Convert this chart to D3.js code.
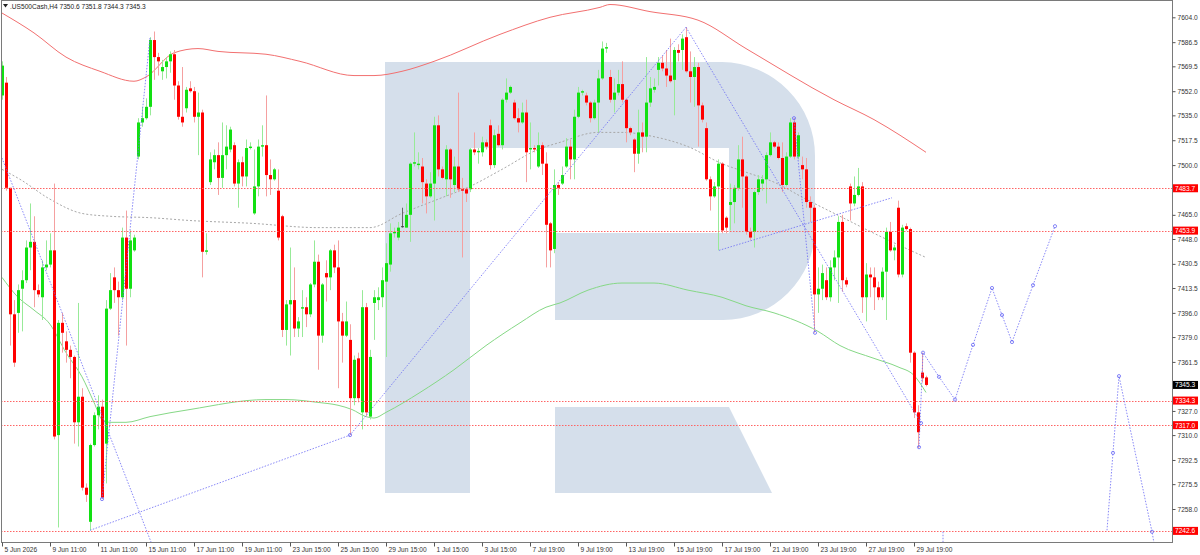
<!DOCTYPE html>
<html><head><meta charset="utf-8">
<script src="https://cdn.jsdelivr.net/npm/d3@7"></script>
<style>body{margin:0;background:#fff}svg{display:block}text{font-family:"Liberation Sans",Arial,sans-serif}</style>
</head><body><svg id="c" width="1200" height="555"></svg>
<script>
const title = ".US500Cash,H4  7350.6 7351.8 7344.3 7345.3";
const opens  = [7549,7558,7484,7395,7396,7413,7419,7442,7446,7412,7407,7428,7430,7440,7310,7389,7376,7370,7365,7319,7337,7273,7249,7303,7324,7330,7304,7399,7421,7412,7407,7449,7413,7440,7506,7530,7533,7541,7588,7576,7566,7569,7573,7578,7556,7534,7540,7554,7552,7534,7537,7439,7488,7502,7507,7491,7507,7511,7514,7487,7502,7492,7512,7466,7485,7513,7514,7493,7490,7482,7464,7384,7402,7405,7385,7399,7400,7395,7416,7432,7380,7424,7421,7440,7428,7390,7380,7377,7336,7364,7326,7400,7323,7403,7405,7407,7418,7430,7452,7449,7457,7456,7465,7501,7500,7499,7487,7478,7487,7528,7497,7490,7511,7486,7499,7483,7483,7483,7511,7509,7509,7516,7528,7500,7522,7514,7546,7551,7544,7533,7530,7537,7511,7512,7499,7514,7501,7459,7441,7486,7487,7499,7513,7504,7534,7551,7549,7544,7533,7544,7561,7582,7562,7546,7551,7557,7546,7526,7518,7508,7523,7520,7544,7553,7567,7572,7568,7563,7560,7581,7581,7590,7566,7562,7569,7542,7526,7490,7478,7485,7501,7463,7472,7474,7484,7504,7492,7453,7453,7481,7487,7490,7507,7516,7513,7505,7486,7506,7530,7506,7500,7497,7474,7470,7409,7413,7419,7407,7428,7435,7460,7419,7485,7473,7479,7485,7407,7423,7421,7414,7407,7425,7453,7440,7470,7423,7457,7455,7368,7326,7354,7350.6];
const highs  = [7573,7562,7484,7405,7416,7426,7447,7473,7464,7416,7433,7447,7452,7487,7391,7396,7383,7373,7366,7403,7343,7276,7304,7326,7338,7335,7405,7424,7428,7418,7456,7468,7454,7451,7533,7541,7547,7590,7594,7579,7574,7576,7580,7581,7559,7569,7555,7559,7555,7551,7539,7452,7509,7511,7516,7530,7528,7527,7516,7504,7506,7518,7516,7511,7518,7528,7549,7504,7498,7497,7465,7405,7442,7428,7393,7412,7407,7417,7447,7437,7417,7433,7441,7444,7447,7396,7404,7388,7366,7368,7412,7403,7370,7412,7414,7428,7445,7459,7456,7460,7470,7473,7502,7523,7509,7505,7490,7495,7534,7535,7499,7514,7512,7506,7551,7491,7484,7512,7523,7512,7520,7518,7532,7525,7528,7547,7561,7556,7546,7540,7544,7546,7530,7514,7523,7516,7509,7460,7497,7488,7499,7519,7518,7539,7555,7553,7551,7545,7546,7567,7587,7586,7567,7561,7567,7573,7547,7527,7519,7539,7530,7576,7562,7561,7576,7577,7581,7589,7583,7585,7592,7597,7580,7576,7572,7544,7530,7492,7488,7504,7502,7464,7487,7486,7514,7520,7493,7456,7482,7493,7493,7509,7523,7517,7516,7516,7509,7533,7533,7523,7506,7505,7478,7472,7428,7430,7428,7433,7440,7464,7465,7421,7487,7492,7498,7488,7431,7428,7428,7418,7428,7456,7460,7444,7475,7458,7459,7456,7369,7331,7368,7351.8];
const lows   = [7546,7482,7373,7358,7382,7383,7417,7426,7400,7407,7391,7426,7428,7307,7245,7368,7361,7350,7304,7302,7271,7263,7243,7302,7314,7265,7276,7398,7403,7380,7405,7373,7407,7439,7504,7527,7532,7535,7560,7563,7560,7561,7565,7546,7532,7527,7537,7551,7530,7507,7421,7437,7486,7497,7479,7484,7497,7509,7485,7470,7485,7485,7511,7465,7478,7506,7478,7479,7489,7447,7379,7373,7366,7379,7379,7379,7386,7393,7414,7356,7375,7404,7412,7424,7343,7361,7379,7310,7331,7333,7314,7323,7321,7377,7398,7400,7365,7425,7449,7447,7456,7456,7446,7499,7497,7473,7466,7477,7461,7492,7490,7478,7477,7481,7481,7435,7474,7481,7507,7501,7506,7511,7497,7498,7513,7511,7544,7550,7532,7523,7529,7488,7497,7509,7498,7493,7428,7428,7438,7479,7486,7498,7490,7490,7533,7549,7542,7530,7532,7523,7560,7579,7544,7537,7549,7544,7516,7521,7495,7501,7509,7509,7541,7551,7556,7566,7555,7558,7535,7573,7567,7565,7544,7541,7513,7530,7489,7468,7477,7440,7452,7452,7454,7459,7482,7470,7451,7447,7442,7479,7482,7473,7506,7512,7504,7481,7485,7505,7504,7504,7490,7470,7460,7382,7396,7405,7405,7404,7419,7403,7411,7414,7461,7471,7478,7396,7390,7407,7398,7405,7405,7391,7439,7433,7421,7421,7454,7361,7322,7301,7347,7344.3];
const closes = [7570,7484,7395,7361,7412,7419,7442,7446,7412,7409,7428,7430,7440,7309,7389,7382,7370,7365,7319,7337,7273,7268,7303,7324,7330,7266,7399,7412,7412,7407,7449,7413,7447,7449,7530,7533,7541,7588,7576,7573,7569,7573,7578,7556,7534,7530,7553,7552,7534,7537,7439,7440,7504,7507,7491,7507,7513,7525,7487,7502,7492,7512,7513,7485,7513,7514,7493,7490,7497,7449,7384,7402,7405,7385,7390,7400,7395,7416,7432,7380,7416,7421,7440,7428,7390,7380,7390,7336,7363,7336,7400,7326,7365,7407,7407,7419,7431,7452,7453,7456,7457,7465,7501,7502,7501,7488,7478,7487,7528,7497,7491,7511,7490,7499,7483,7482,7480,7511,7509,7510,7516,7513,7500,7521,7514,7546,7551,7555,7533,7530,7537,7509,7512,7511,7514,7501,7458,7440,7486,7484,7493,7513,7504,7534,7551,7552,7544,7533,7544,7561,7582,7583,7546,7551,7557,7546,7526,7523,7508,7523,7520,7544,7554,7555,7572,7568,7563,7559,7581,7579,7589,7566,7562,7569,7542,7532,7490,7478,7485,7501,7454,7456,7474,7484,7504,7492,7453,7449,7481,7490,7490,7507,7516,7513,7505,7486,7506,7530,7506,7521,7497,7474,7470,7409,7413,7424,7407,7428,7435,7460,7419,7416,7473,7479,7485,7407,7423,7421,7414,7407,7425,7453,7440,7442,7423,7456,7455,7368,7326,7312,7350,7345.3];

const xTickIndex  = [0,12,24,36,48,60,72,84,96,108,120,132,144,156,168,180,192,204,216,228];
const xTickLabels = ["5 Jun 2026","9 Jun 11:00","11 Jun 11:00","15 Jun 11:00","17 Jun 11:00","19 Jun 11:00","23 Jun 15:00","25 Jun 15:00","29 Jun 15:00","1 Jul 15:00","3 Jul 15:00","7 Jul 19:00","9 Jul 19:00","13 Jul 19:00","15 Jul 19:00","17 Jul 19:00","21 Jul 19:00","23 Jul 19:00","27 Jul 19:00","29 Jul 19:00"];
const yTickValues = [7604.0,7586.5,7569.5,7552.0,7535.0,7517.5,7500.0,7465.0,7448.0,7430.5,7413.5,7396.0,7379.0,7361.5,7327.0,7310.0,7292.5,7275.5,7258.0];
const levelValues = [7483.7,7453.9,7334.3,7317.0,7242.6];
const lastPrice = 7345.3;

const maRedIdx  = [0,8,16,24.5,33,36,43,49,54,66,74.5,88,93,100,108,124.5,137,149.5,152,162,174,186,208,218,231];
const maRedVal  = [7607,7593,7576,7566,7559,7562,7579,7582,7580,7578,7573,7563,7563,7566,7573,7592,7604,7611,7613,7608,7602,7582,7546,7532,7509];
const maGreyIdx = [0,4.5,12,20,27,37,47,62.5,79,92,100,109,117,125,134,139.5,149,155,163,171.5,180,186,193,201,209.5,218,231];
const maGreyVal = [7497,7490,7476,7466,7464,7463,7461,7459,7456,7456,7466,7476,7485,7497,7511,7516,7523,7523,7520,7513,7501,7495,7488,7476,7464,7452,7435];
const maGreenIdx = [0,4,8,12,16,20,23,25,27,31,37,47,66,71,79,84,87.5,91,93,96,104.5,113,121,129.5,136,139.5,146.5,155,163,171.5,180,186,193,204,209.5,218,224,228,231];
const maGreenVal = [7421,7407,7398,7388,7368,7351,7333,7321,7319,7319,7323,7328,7335,7335,7333,7331,7328,7323,7322,7326,7340,7356,7373,7389,7400,7403,7412,7417,7417,7412,7407,7401,7396,7383,7373,7364,7358,7352,7340];

const waveA = [[0,7505],[37.5,7233]];
const waveB = [[22,7243],[87,7310],[171,7597]];
const waveC = [[25,7265],[37,7589.5]];
const waveD = [[171,7597],[229.75,7318.5]];
const waveE = [[198,7533],[203.25,7382]];
const waveF = [[179.25,7440],[222.5,7477]];
const forecast1 = [[229.25,7301.5],[230.25,7368],[234.25,7351],[238.25,7335],[242.75,7373.5],[247.5,7413.5],[250,7394.5],[252.5,7375.5],[257.75,7415.5],[263.25,7457]];
const forecast2 = [[235.25,7242],[235.25,7230]];
const forecast3 = [[276.25,7243],[277.75,7297.5],[279.25,7351.5],[287.5,7242],[288,7234]];

const plotL=1, plotR=1172, plotT=1, plotB=542;
const svg=d3.select("#c");
const x=d3.scaleLinear().domain([0,292.5]).range([2,1172]);
const y=d3.scaleLinear().domain([7258,7604]).range([509,17.3]);

svg.append("defs").append("clipPath").attr("id","clip").append("rect")
  .attr("x",plotL).attr("y",plotT).attr("width",plotR-plotL).attr("height",plotB-plotT);
const g=svg.append("g").attr("clip-path","url(#clip)");

// watermark logo
const wm="#d5dfeb";
g.append("path").attr("fill",wm)
 .attr("d","M385,62 L722,62 A94,94 0 0 1 815,156 L815,228 A92,92 0 0 1 723,320 L555,320 L555,233 L729,233 L729,148 L470,148 L470,493 L385,493 Z");
g.append("path").attr("fill",wm).attr("d","M555,407 L729,407 L772,493 L555,493 Z");

// moving averages
const lineGen=d3.line().x(d=>x(d[0])).y(d=>y(d[1])).curve(d3.curveMonotoneX);
const zip=(a,b)=>a.map((v,i)=>[v,b[i]]);
g.append("path").attr("d",lineGen(zip(maGreenIdx,maGreenVal))).attr("fill","none").attr("stroke","#86d886").attr("stroke-width",1);
g.append("path").attr("d",lineGen(zip(maGreyIdx,maGreyVal))).attr("fill","none").attr("stroke","#a8a8a8").attr("stroke-width",1).attr("stroke-dasharray","2,2");
g.append("path").attr("d",lineGen(zip(maRedIdx,maRedVal))).attr("fill","none").attr("stroke","#f27070").attr("stroke-width",1);

// candles
const candles=opens.map((o,i)=>({i,o,h:highs[i],l:lows[i],c:closes[i]}));
const col=d=>d.c>d.o?"up":(d.c<d.o?"dn":"dj");
const bodyCol={up:"#12e012",dn:"#ff0000",dj:"#444"};
const wickCol={up:"#98ea98",dn:"#f5a0a0",dj:"#666"};
g.selectAll(".wick").data(candles).join("line").attr("class","wick")
  .attr("x1",d=>Math.round(x(d.i))+0.5).attr("x2",d=>Math.round(x(d.i))+0.5)
  .attr("y1",d=>y(d.h)).attr("y2",d=>y(d.l))
  .attr("stroke",d=>wickCol[col(d)]).attr("stroke-width",1);
g.selectAll(".body").data(candles).join("rect").attr("class","body")
  .attr("x",d=>Math.round(x(d.i))-1).attr("width",3)
  .attr("y",d=>y(Math.max(d.o,d.c)))
  .attr("height",d=>Math.max(1,Math.abs(y(d.o)-y(d.c))))
  .attr("fill",d=>bodyCol[col(d)]);

// level lines
g.selectAll(".lvl").data(levelValues).join("line").attr("class","lvl")
  .attr("x1",plotL).attr("x2",plotR)
  .attr("y1",d=>Math.round(y(d))+0.5).attr("y2",d=>Math.round(y(d))+0.5)
  .attr("stroke","#ff6464").attr("stroke-width",1).attr("stroke-dasharray","1.5,1.5");

// wave / forecast lines
const waves=[waveA,waveB,waveC,waveD,waveE,waveF,forecast1,forecast2,forecast3];
const straight=d3.line().x(d=>x(d[0])).y(d=>y(d[1]));
g.selectAll(".wave").data(waves).join("path").attr("class","wave")
  .attr("d",straight).attr("fill","none").attr("stroke","#6a6af5").attr("stroke-opacity",0.8)
  .attr("stroke-width",1).attr("stroke-dasharray","1.5,1.5");
const markers=[waveB[1],waveC[0],waveD[1],waveE[0],waveE[1],...forecast1,...forecast3.slice(1,4)];
g.selectAll(".mk").data(markers).join("circle").attr("class","mk")
  .attr("cx",d=>x(d[0])).attr("cy",d=>y(d[1])).attr("r",1.6)
  .attr("fill","none").attr("stroke","#6a6af5").attr("stroke-width",0.8);

// frame
svg.append("rect").attr("x",plotL+0.5).attr("y",plotT-0.5).attr("width",plotR-plotL).attr("height",plotB-plotT+1)
  .attr("fill","none").attr("stroke","#7a7a7a").attr("stroke-width",1);

// right axis
const ya=svg.append("g").attr("transform",`translate(${plotR+0.5},0)`)
  .call(d3.axisRight(y).tickValues(yTickValues).tickFormat(d3.format(".1f")).tickSize(3).tickPadding(2));
ya.select(".domain").remove();
ya.selectAll("line").attr("stroke","#555");
ya.selectAll("text").attr("font-size","6.6px").attr("fill","#333").attr("font-family","Liberation Sans, Arial, sans-serif");

// level labels
const lab=svg.append("g");
levelValues.forEach(v=>{
  const yy=y(v);
  lab.append("rect").attr("x",1173).attr("y",yy-4).attr("width",25).attr("height",8).attr("fill","#ff0000");
  lab.append("text").attr("x",1175).attr("y",yy+2.4).attr("font-size","6.6px").attr("fill","#fff").text(v.toFixed(1));
});
{
  const yy=y(lastPrice);
  lab.append("rect").attr("x",1173).attr("y",yy-4).attr("width",25).attr("height",8).attr("fill","#000");
  lab.append("text").attr("x",1175).attr("y",yy+2.4).attr("font-size","6.6px").attr("fill","#fff").text(lastPrice.toFixed(1));
}

// bottom axis
const xa=svg.append("g").attr("transform",`translate(0,${plotB+0.5})`)
  .call(d3.axisBottom(x).tickValues(xTickIndex).tickFormat((d,i)=>xTickLabels[i]).tickSize(4).tickPadding(1));
xa.select(".domain").remove();
xa.selectAll("line").attr("stroke","#555");
xa.selectAll("text").attr("text-anchor","start").attr("dx","2").attr("font-size","6.6px").attr("fill","#333").attr("font-family","Liberation Sans, Arial, sans-serif");

// title
svg.append("path").attr("d","M3,4 L8,4 L5.5,7.5 Z").attr("fill","#222");
svg.append("text").attr("x",10).attr("y",8.8).attr("font-size","6.6px").attr("fill","#222").text(title);
</script></body></html>
